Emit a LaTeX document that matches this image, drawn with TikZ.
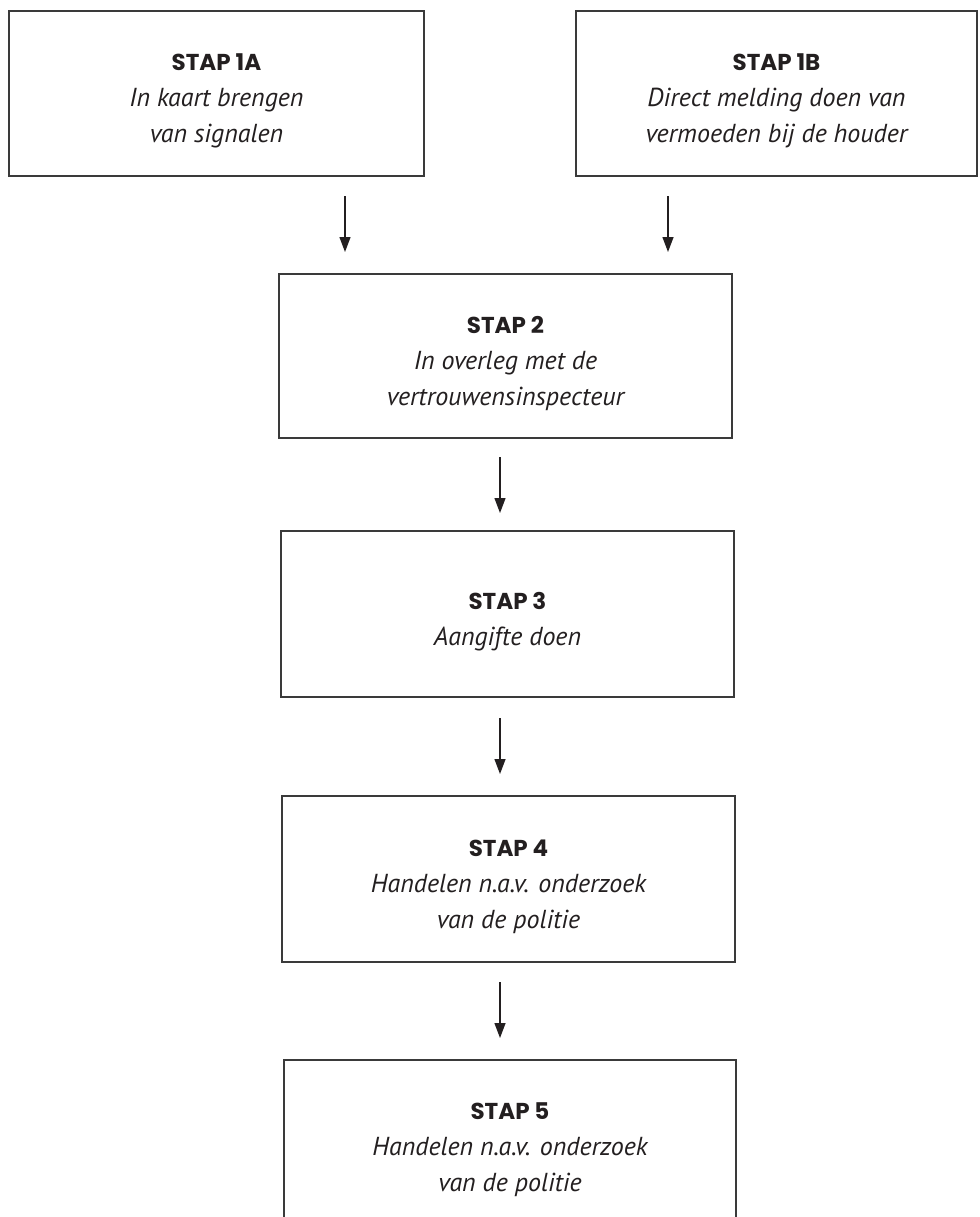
\documentclass[tikz,border=0pt]{standalone}
\usepackage{fontspec}
\setmainfont{PT Sans}
\newfontfamily\headfont{Poppins}
\usetikzlibrary{arrows.meta}
\definecolor{ink}{HTML}{231F20}
\definecolor{boxgray}{HTML}{3A3A3A}
\newcommand\steptext[2]{\raisebox{-6pt}[\height][\depth]{\begin{tabular}{@{}c@{}}%
  {\headfont\upshape\bfseries\fontsize{23}{36}\selectfont #1}\\#2\end{tabular}}}
\begin{document}
\begin{tikzpicture}[x=1pt,y=-1pt,
  stepbox/.style={draw=boxgray, line width=1.6pt, minimum height=165pt, inner sep=0pt,
    text=ink, font=\fontsize{26}{36}\selectfont\itshape},
  flow/.style={draw=ink, line width=1.3pt, -{Triangle[length=15pt,width=11pt]}}]
\useasboundingbox (0,0) rectangle (979,1217);
\clip (0,0) rectangle (979,1217);
\node[stepbox, minimum width=415pt] (s1a) at (216.5,93.5)
  {\steptext{STAP 1A}{In kaart brengen\\van signalen}};
\node[stepbox, minimum width=401pt] (s1b) at (776.5,93.5)
  {\steptext{STAP 1B}{Direct melding doen van\\vermoeden bij de houder}};
\node[stepbox, minimum width=453pt, minimum height=164pt] (s2) at (505.5,356)
  {\steptext{STAP 2}{In overleg met de\\vertrouwensinspecteur}};
\node[stepbox, minimum width=453pt, minimum height=166pt] (s3) at (507.5,614)
  {\steptext{STAP 3}{Aangifte doen}};
\node[stepbox, minimum width=453pt, minimum height=166pt] (s4) at (508.5,879)
  {\steptext{STAP 4}{Handelen n.a.v. onderzoek\\van de politie}};
\node[stepbox, minimum width=452pt] (s5) at (510,1142.5)
  {\steptext{STAP 5}{Handelen n.a.v. onderzoek\\van de politie}};
\coordinate (a1s) at (345,196); \coordinate (a1e) at (345,252);
\coordinate (a2s) at (668,196); \coordinate (a2e) at (668,252);
\coordinate (a3s) at (500,457); \coordinate (a3e) at (500,513);
\coordinate (a4s) at (500,718); \coordinate (a4e) at (500,774);
\coordinate (a5s) at (500,982); \coordinate (a5e) at (500,1038);
\draw[flow] (a1s) -- (a1e);
\draw[flow] (a2s) -- (a2e);
\draw[flow] (a3s) -- (a3e);
\draw[flow] (a4s) -- (a4e);
\draw[flow] (a5s) -- (a5e);
\end{tikzpicture}
\end{document}
